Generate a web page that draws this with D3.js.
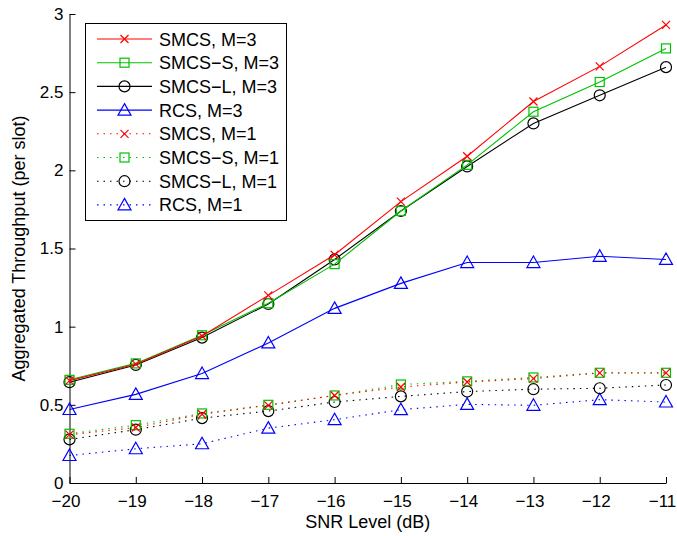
<!DOCTYPE html>
<html lang="en">
<head>
<meta charset="utf-8">
<!-- Load d3.js -->
<script src="https://d3js.org/d3.v7.min.js"></script>
<style>
  body { margin: 0; background: #fff; }
  text { font-family: "Liberation Sans", Arial, Helvetica, sans-serif; }
</style>
</head>

<body>
<div id="my_dataviz"></div>
<script>

    // data
    var snr = [-20, -19, -18, -17, -16, -15, -14, -13, -12, -11];
    var smcs3  = [0.655, 0.76, 0.94, 1.20, 1.46, 1.80, 2.09, 2.44, 2.665, 2.93];
    var smcsS3 = [0.66, 0.765, 0.945, 1.15, 1.40, 1.74, 2.035, 2.375, 2.565, 2.78];
    var smcsL3 = [0.645, 0.755, 0.93, 1.145, 1.43, 1.74, 2.025, 2.30, 2.48, 2.66];
    var rcs3   = [0.47, 0.567, 0.70, 0.896, 1.117, 1.277, 1.41, 1.41, 1.45, 1.43];
    var smcs1  = [0.309, 0.355, 0.44, 0.497, 0.56, 0.614, 0.646, 0.668, 0.704, 0.704];
    var smcsS1 = [0.315, 0.37, 0.445, 0.50, 0.56, 0.63, 0.65, 0.675, 0.705, 0.705];
    var smcsL1 = [0.279, 0.341, 0.415, 0.46, 0.518, 0.554, 0.585, 0.60, 0.606, 0.627];
    var rcs1   = [0.176, 0.219, 0.251, 0.351, 0.405, 0.469, 0.503, 0.497, 0.533, 0.518];

    var xTicks = [-20, -19, -18, -17, -16, -15, -14, -13, -12, -11];
    var yTicks = [0, 0.5, 1, 1.5, 2, 2.5, 3];

    var series = [
      {name: "SMCS, M=3",   values: smcs3,  color: "#ff0000", marker: "x",   dotted: false},
      {name: "SMCS\u2212S, M=3", values: smcsS3, color: "#00c000", marker: "sq",  dotted: false},
      {name: "SMCS\u2212L, M=3", values: smcsL3, color: "#000000", marker: "o",   dotted: false},
      {name: "RCS, M=3",    values: rcs3,   color: "#0000ff", marker: "tri", dotted: false},
      {name: "SMCS, M=1",   values: smcs1,  color: "#ff0000", marker: "x",   dotted: true},
      {name: "SMCS\u2212S, M=1", values: smcsS1, color: "#00c000", marker: "sq",  dotted: true},
      {name: "SMCS\u2212L, M=1", values: smcsL1, color: "#000000", marker: "o",   dotted: true},
      {name: "RCS, M=1",    values: rcs1,   color: "#0000ff", marker: "tri", dotted: true}
    ];

    // set the dimensions and margins of the graph
    var margin = {top: 14, right: 11, bottom: 53, left: 69.5},
        width = 677 - margin.left - margin.right,
        height = 536 - margin.top - margin.bottom;

    var svg = d3.select("#my_dataviz")
      .append("svg")
        .attr("width", 677)
        .attr("height", 536)
      .append("g")
        .attr("transform", "translate(" + margin.left + "," + margin.top + ")");

    var x = d3.scaleLinear().domain([-20, -11]).range([0, width]);
    var y = d3.scaleLinear().domain([0, 3]).range([height, 0]);

    // X axis, ticks pointing inward
    var xAxis = svg.append("g")
      .attr("transform", "translate(0," + height + ")")
      .call(d3.axisBottom(x).tickValues(xTicks).tickSizeInner(-6).tickSizeOuter(0).tickPadding(12)
        .tickFormat(function(d) { return "\u2212" + Math.abs(d); }));
    xAxis.selectAll("text").attr("dx", -4).style("font-size", "17px").attr("fill", "#000");

    // Y axis
    var yAxis = svg.append("g")
      .call(d3.axisLeft(y).tickValues(yTicks).tickSizeInner(-6).tickSizeOuter(0).tickPadding(6)
        .tickFormat(function(d) { return d; }));
    yAxis.selectAll("text").style("font-size", "17px").attr("fill", "#000");

    svg.selectAll(".domain").attr("stroke", "#000").attr("stroke-width", 1);
    svg.selectAll(".tick line").attr("stroke", "#000").attr("stroke-width", 1);

    // axis labels
    svg.append("text")
        .attr("text-anchor", "middle")
        .attr("x", width / 2)
        .attr("y", height + 44.5)
        .style("font-size", "18px")
        .text("SNR Level (dB)");

    svg.append("text")
        .attr("text-anchor", "middle")
        .attr("transform", "rotate(-90)")
        .attr("x", -height / 2)
        .attr("y", -margin.left + 25)
        .style("font-size", "18px")
        .text("Aggregated Throughput (per slot)");

    // draw one marker shape at (cx, cy)
    function drawMarker(g, kind, cx, cy, color) {
      if (kind === "x") {
        g.append("path")
          .attr("d", "M" + (cx - 4) + "," + (cy - 4) + "L" + (cx + 4) + "," + (cy + 4) +
                     "M" + (cx - 4) + "," + (cy + 4) + "L" + (cx + 4) + "," + (cy - 4))
          .attr("stroke", color).attr("fill", "none").attr("stroke-width", 1.2);
      } else if (kind === "sq") {
        g.append("rect")
          .attr("x", cx - 4.5).attr("y", cy - 4.5).attr("width", 9).attr("height", 9)
          .attr("stroke", color).attr("fill", "none").attr("stroke-width", 1.2);
      } else if (kind === "o") {
        g.append("circle")
          .attr("cx", cx).attr("cy", cy).attr("r", 5.5)
          .attr("stroke", color).attr("fill", "none").attr("stroke-width", 1.2);
      } else {
        g.append("path")
          .attr("d", "M" + cx + "," + (cy - 6.5) + "L" + (cx + 6.5) + "," + (cy + 5) +
                     "L" + (cx - 6.5) + "," + (cy + 5) + "Z")
          .attr("stroke", color).attr("fill", "none").attr("stroke-width", 1.2);
      }
    }

    var line = d3.line()
      .x(function(d, i) { return x(snr[i]); })
      .y(function(d) { return y(d); });

    // lines and markers, M=1 first so M=3 sits on top
    series.slice().reverse().forEach(function(s) {
      var g = svg.append("g");
      g.append("path")
        .datum(s.values)
        .attr("d", line)
        .attr("fill", "none")
        .attr("stroke", s.color)
        .attr("stroke-width", 1.1)
        .attr("stroke-dasharray", s.dotted ? "1.5,5" : null);
      s.values.forEach(function(v, i) {
        drawMarker(g, s.marker, x(snr[i]), y(v), s.color);
      });
    });

    // Legend
    var legend = svg.append("g").attr("transform", "translate(" + (85 - margin.left) + "," + (23 - margin.top) + ")");
    legend.append("rect")
      .attr("x", 0.5).attr("y", 0.5)
      .attr("width", 201).attr("height", 197)
      .attr("fill", "#fff")
      .attr("stroke", "#000")
      .attr("stroke-width", 1);

    series.forEach(function(s, i) {
      var ry = 16 + i * 23.7;
      legend.append("line")
        .attr("x1", 12).attr("x2", 67)
        .attr("y1", ry).attr("y2", ry)
        .attr("stroke", s.color)
        .attr("stroke-width", 1.1)
        .attr("stroke-dasharray", s.dotted ? "1.5,5" : null);
      drawMarker(legend, s.marker, 39.5, ry, s.color);
      legend.append("text")
        .attr("x", 74)
        .attr("y", ry + 6.5)
        .style("font-size", "18px")
        .text(s.name);
    });

</script>
</body>
</html>
